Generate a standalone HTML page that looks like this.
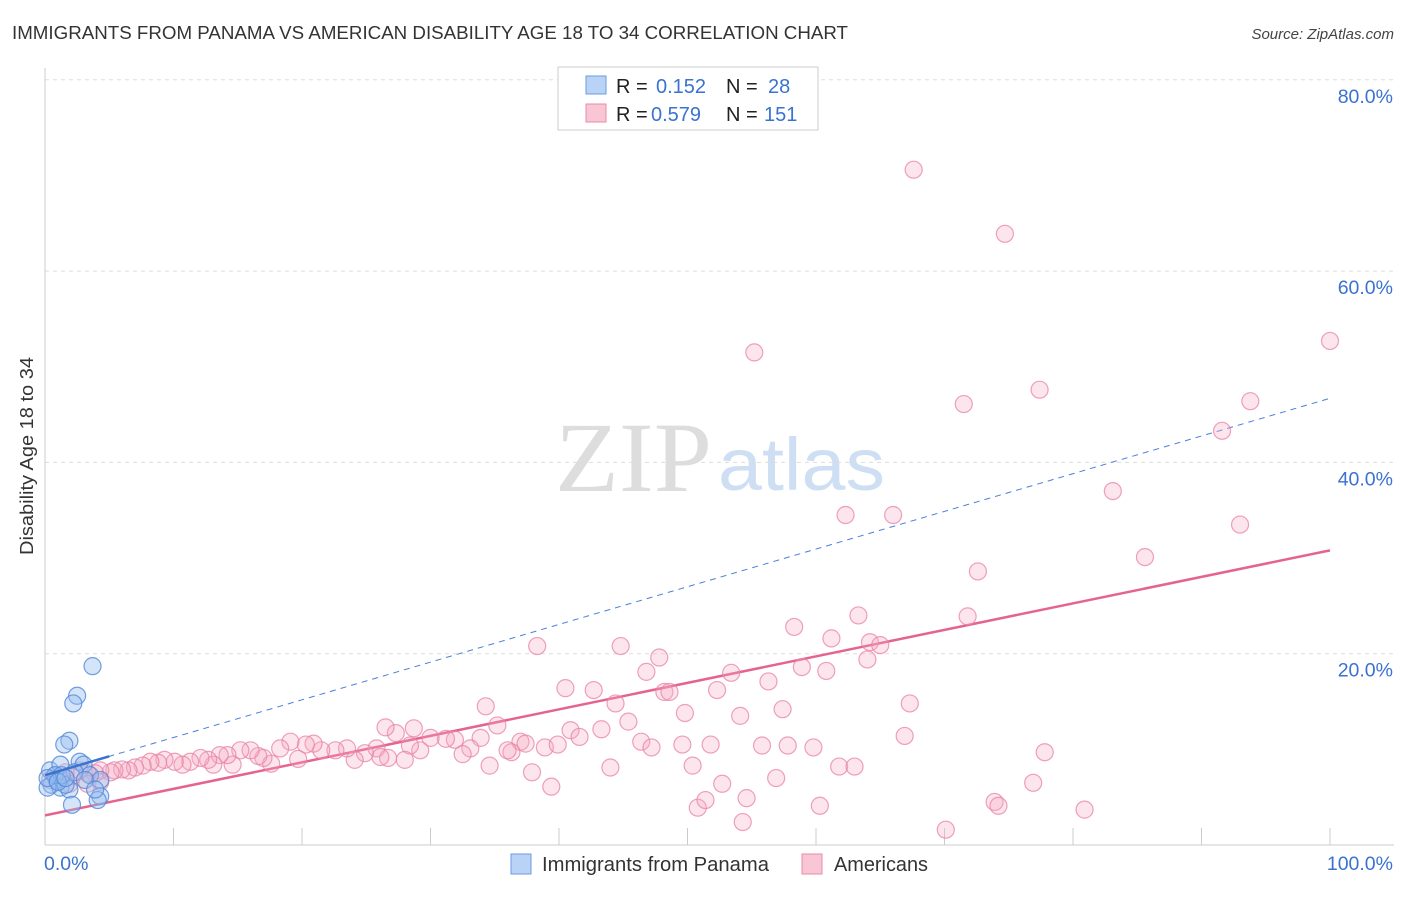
<!DOCTYPE html>
<html><head><meta charset="utf-8">
<style>
body{margin:0;background:#fff;font-family:"Liberation Sans",sans-serif;}
svg text{font-family:"Liberation Sans",sans-serif;}
</style></head>
<body>
<svg id="chart" width="1406" height="892" xmlns="http://www.w3.org/2000/svg">
<text x="12" y="39" font-size="18" fill="#333" textLength="836" lengthAdjust="spacingAndGlyphs">IMMIGRANTS FROM PANAMA VS AMERICAN DISABILITY AGE 18 TO 34 CORRELATION CHART</text>
<text x="1394" y="39" font-size="15" fill="#444" font-style="italic" text-anchor="end">Source: ZipAtlas.com</text>
<text x="33" y="456" font-size="18" fill="#333" text-anchor="middle" textLength="198" lengthAdjust="spacingAndGlyphs" transform="rotate(-90 33 456)">Disability Age 18 to 34</text>
<g>
<text x="555" y="491" font-size="100" fill="#ddd" textLength="157" lengthAdjust="spacingAndGlyphs" style="font-family:'Liberation Serif',serif">ZIP</text>
<text x="718" y="490" font-size="74" fill="#cfdff3" textLength="167" lengthAdjust="spacingAndGlyphs">atlas</text>
</g>
<g id="grid"></g><g id="axes"></g><g id="lines"></g><g id="pts"></g>
<g>
<rect x="558" y="67" width="260" height="63" fill="#fff" stroke="#ccc"/>
<rect x="586" y="76" width="20" height="18" fill="#b8d3f5" stroke="#6b9be0"/>
<rect x="586" y="104" width="20" height="18" fill="#f9c6d5" stroke="#e88aa8"/>
<text x="616" y="93" font-size="20" fill="#222">R = <tspan x="656" fill="#3a72d0">0.152</tspan><tspan x="726">N = </tspan><tspan x="768" fill="#3a72d0">28</tspan></text>
<text x="616" y="121" font-size="20" fill="#222">R = <tspan x="651" fill="#3a72d0">0.579</tspan><tspan x="726">N = </tspan><tspan x="764" fill="#3a72d0">151</tspan></text>
</g>
<g>
<rect x="511" y="854" width="20" height="20" fill="#b8d3f5" stroke="#6b9be0"/>
<text x="542" y="871" font-size="20" fill="#333" textLength="227" lengthAdjust="spacingAndGlyphs">Immigrants from Panama</text>
<rect x="802" y="854" width="20" height="20" fill="#f9c6d5" stroke="#e88aa8"/>
<text x="834" y="871" font-size="20" fill="#333" textLength="94" lengthAdjust="spacingAndGlyphs">Americans</text>
</g>
</svg>
<script>
const yTicks=[20,40,60,80];
const xTickLabels=["0.0%","100.0%"];
const pinkX=[67.6,74.7,55.2,100,71.5,77.4,93.8,91.6,83.1,62.3,66.0,93.0,85.6,72.6,63.3,71.8,58.3,61.2,64.2,65.0,64.0,38.3,44.8,47.8,40.5,42.7,48.2,48.6,52.3,46.8,53.4,56.3,60.8,58.9,67.3,34.3,44.4,57.4,49.8,54.1,35.2,45.4,40.9,43.3,41.6,33.9,66.9,46.4,47.2,49.6,51.8,55.8,57.8,59.8,77.8,37.0,37.4,38.9,39.9,36.3,36.0,33.1,32.5,31.9,31.2,30.0,29.2,28.4,27.3,28.7,26.5,25.8,26.7,28.0,26.1,24.9,24.1,23.5,22.6,21.5,20.9,20.3,19.7,19.1,18.3,17.6,17.0,16.6,16.0,15.2,14.6,14.2,13.6,13.1,12.7,12.1,11.3,10.7,10.1,9.3,8.8,8.2,7.6,7.0,6.5,6.0,5.4,5.1,4.3,3.9,3.3,2.7,2.1,1.6,1.2,0.8,0.4,34.6,37.9,39.4,44.0,50.4,52.7,56.9,61.8,63.0,76.9,50.8,51.4,54.6,54.3,60.3,73.9,74.2,70.1,80.9,3.3,4.3,1.9];
const pinkY=[70.6,63.9,51.5,52.7,46.1,47.6,46.4,43.3,37.0,34.5,34.5,33.5,30.1,28.6,24.0,23.9,22.8,21.6,21.2,20.9,19.4,20.8,20.8,19.6,16.4,16.2,16.0,16.0,16.2,18.1,18.0,17.1,18.2,18.6,14.8,14.5,14.8,14.2,13.8,13.5,12.5,12.9,12.0,12.1,11.3,11.2,11.4,10.8,10.2,10.5,10.5,10.4,10.4,10.2,9.7,10.8,10.6,10.2,10.5,9.7,9.9,10.1,9.5,11.0,11.1,11.2,9.9,10.4,11.7,12.2,12.3,10.1,9.1,8.9,9.2,9.6,8.9,10.1,9.9,9.9,10.6,10.5,9.0,10.8,10.1,8.5,9.1,9.3,9.9,9.9,8.4,9.4,9.4,8.4,8.9,9.1,8.7,8.4,8.7,8.9,8.6,8.7,8.3,8.1,7.8,7.9,7.8,7.6,7.8,7.5,7.5,7.8,7.2,7.6,7.0,7.3,6.8,8.3,7.6,6.1,8.1,8.3,6.4,7.0,8.2,8.2,6.5,3.9,4.7,4.9,2.4,4.1,4.5,4.1,1.6,3.7,6.4,6.6,6.4];
const blueX=[3.7,2.5,2.2,1.9,1.5,2.7,3.0,0.4,1.2,0.9,0.5,1.2,0.2,1.9,1.6,3.5,4.3,2.1,4.3,4.1,2.3,0.8,1.3,3.1,0.2,1.0,1.6,3.9];
const blueY=[18.7,15.6,14.8,10.9,10.5,8.7,8.4,7.8,8.4,6.8,6.3,6.0,6.0,5.8,6.3,7.3,6.8,4.2,5.1,4.7,7.6,7.3,7.3,6.8,7.0,6.6,7.0,5.8];
const pinkTrend=[3.1,30.8];
const blueTrend=[7.3,46.7];
const blueSolidEnd=5;
const NS="http://www.w3.org/2000/svg";
const X=v=>45+v*12.85, Y=v=>845-v*9.565;
function mk(tag,attrs,parent){const e=document.createElementNS(NS,tag);for(const k in attrs)e.setAttribute(k,attrs[k]);document.getElementById(parent).appendChild(e);return e;}
yTicks.forEach(t=>{
 const g=mk('line',{x1:45,x2:1394,y1:Y(t),y2:Y(t),stroke:'#ddd','stroke-dasharray':'4,4'},'grid');
 
 
 const l=mk('text',{x:1393,y:Y(t)+23,'font-size':19.5,fill:'#3a72d0','text-anchor':'end'},'grid');
 l.textContent=t.toFixed(1)+'%';
 
 
});
const ya=mk('line',{x1:45,x2:45,y1:68,y2:845,stroke:'#ccc'},'axes');


const xa=mk('line',{x1:45,x2:1394,y1:845,y2:845,stroke:'#ccc'},'axes');


for(let i=1;i<=10;i++){const t=mk('line',{x1:X(i*10),x2:X(i*10),y1:828,y2:845,stroke:'#ccc'},'axes');
 
 }
const xl0=mk('text',{x:44,y:870,'font-size':19.5,fill:'#3a72d0'},'axes');xl0.textContent=xTickLabels[0];


const xl1=mk('text',{x:1393,y:870,'font-size':19.5,fill:'#3a72d0','text-anchor':'end'},'axes');xl1.textContent=xTickLabels[1];


const bd=mk('line',{x1:X(0),y1:Y(blueTrend[0]),x2:X(100),y2:Y(blueTrend[1]),stroke:'#4a80d8','stroke-width':1,'stroke-dasharray':'6,5'},'lines');


const pt=mk('line',{x1:X(0),y1:Y(pinkTrend[0]),x2:X(100),y2:Y(pinkTrend[1]),stroke:'#e5648e','stroke-width':2.5},'lines');


pinkX.forEach((x,i)=>{const c=mk('circle',{cx:X(x),cy:Y(pinkY[i]),r:8.5,fill:'rgba(246,168,192,0.3)',stroke:'rgba(232,130,165,0.75)','stroke-width':1.2},'pts');
 
 });
blueX.forEach((x,i)=>{const c=mk('circle',{cx:X(x),cy:Y(blueY[i]),r:8.5,fill:'rgba(150,190,240,0.4)',stroke:'rgba(80,135,215,0.8)','stroke-width':1.2},'pts');
 
 });
const bs=mk('line',{x1:X(0),y1:Y(blueTrend[0]),x2:X(blueSolidEnd),y2:Y(blueTrend[0]+(blueTrend[1]-blueTrend[0])*blueSolidEnd/100),stroke:'#3a72d0','stroke-width':2.5},'pts');


</script>
</body></html>
